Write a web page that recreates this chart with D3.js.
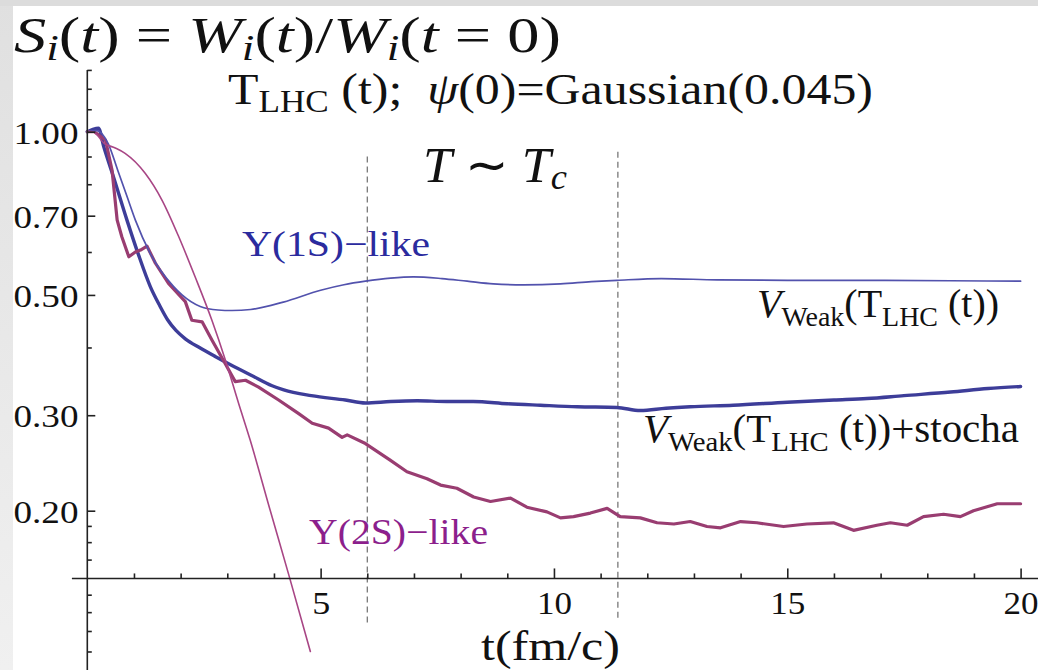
<!DOCTYPE html>
<html>
<head>
<meta charset="utf-8">
<script src="https://cdn.jsdelivr.net/npm/d3@7"></script>
<style>
  html, body { margin: 0; padding: 0; background: #fff; overflow: hidden; }
  svg { display: block; }
</style>
</head>
<body>
<svg id="chart" width="1038" height="670"></svg>
<script>
// Survival probability S_i(t) of Upsilon-like states in a cooling LHC medium.
// t in fm/c, S on a logarithmic axis.

const xMajorTicks = [5, 10, 15, 20];
const xMinorTicks = [1, 2, 3, 4, 6, 7, 8, 9, 11, 12, 13, 14, 16, 17, 18, 19];
const yMajorTicks = [1.0, 0.7, 0.5, 0.3, 0.2];
const yTickLabels = ["1.00", "0.70", "0.50", "0.30", "0.20"];
const yMinorTicks = [1.3, 1.2, 1.1, 0.9, 0.8, 0.6, 0.4, 0.1875, 0.175, 0.1625, 0.14, 0.13, 0.12, 0.11];

// window where T ~ Tc
const tcBounds = [6.0, 11.37];
const tcLineTop = [0.9, 0.918];
const tcLineBottom = [0.124, 0.126];

// Υ(1S), weak potential V_Weak(T_LHC(t))
const weak1S = [
  [0, 1.0], [0.2, 1.005], [0.45, 0.95], [0.65, 0.85], [0.85, 0.76], [1.03, 0.687],
  [1.35, 0.596], [1.85, 0.518], [2.03, 0.50], [2.42, 0.476], [2.8, 0.469], [3.1, 0.468],
  [3.5, 0.470], [4.2, 0.485], [5.0, 0.510], [5.5, 0.522], [5.96, 0.530], [6.5, 0.537],
  [6.99, 0.540], [7.6, 0.536], [8.14, 0.530], [8.7, 0.524], [9.35, 0.522], [10.14, 0.524],
  [10.8, 0.529], [11.35, 0.532], [12.3, 0.536], [13.5, 0.533], [15.0, 0.532], [16.8, 0.532],
  [18.5, 0.531], [20, 0.530]
];

// Υ(1S), weak potential + stochastic forces
const stocha1S = [
  [0, 1.0], [0.12, 1.01], [0.24, 1.015], [0.35, 0.94], [0.56, 0.826], [0.85, 0.687],
  [1.10, 0.592], [1.35, 0.518], [1.55, 0.478], [1.72, 0.450], [1.9, 0.430], [2.1, 0.415],
  [2.42, 0.399], [2.74, 0.385], [3.14, 0.369], [3.5, 0.356], [3.96, 0.340], [4.21, 0.334],
  [4.8, 0.326], [5.53, 0.320], [5.96, 0.316], [6.5, 0.318], [7.07, 0.319], [7.7, 0.318],
  [8.27, 0.318], [9.0, 0.315], [9.71, 0.313], [10.5, 0.311], [11.35, 0.310], [11.85, 0.306],
  [12.4, 0.309], [12.92, 0.311], [13.84, 0.313], [15.0, 0.317], [16.0, 0.320], [16.71, 0.322],
  [17.5, 0.326], [18.5, 0.331], [19.3, 0.336], [20, 0.339]
];

// Υ(2S), weak potential V_Weak(T_LHC(t))
const weak2S = [
  [0, 1.0], [0.12, 1.0], [0.36, 0.952], [0.6, 0.933], [0.81, 0.912], [1.24, 0.838],
  [1.60, 0.748], [1.96, 0.640], [2.31, 0.540], [2.67, 0.449], [2.96, 0.379], [3.24, 0.316],
  [3.49, 0.270], [3.90, 0.203], [4.33, 0.151], [4.78, 0.110]
];

// Υ(2S), weak potential + stochastic forces
const stocha2S = [
  [0, 1.0], [0.15, 1.0], [0.39, 0.965], [0.53, 0.850], [0.64, 0.687], [0.74, 0.640],
  [0.89, 0.588], [1.03, 0.600], [1.14, 0.605], [1.28, 0.615], [1.46, 0.572], [1.74, 0.525],
  [2.10, 0.486], [2.24, 0.449], [2.46, 0.446], [2.67, 0.413], [2.96, 0.373], [3.17, 0.346],
  [3.39, 0.348], [3.67, 0.338], [4.10, 0.320], [4.53, 0.302], [4.82, 0.290], [5.17, 0.284],
  [5.46, 0.273], [5.57, 0.276], [5.96, 0.266], [6.49, 0.248], [6.85, 0.236], [7.28, 0.229],
  [7.57, 0.223], [7.92, 0.220], [8.28, 0.212], [8.64, 0.208], [9.07, 0.211], [9.42, 0.203],
  [9.85, 0.199], [10.14, 0.194], [10.42, 0.195], [10.78, 0.198], [11.14, 0.202], [11.42, 0.195],
  [11.85, 0.194], [12.21, 0.190], [12.57, 0.189], [12.92, 0.191], [13.28, 0.187], [13.57, 0.186],
  [14.0, 0.191], [14.35, 0.190], [14.92, 0.187], [15.42, 0.189], [15.99, 0.190], [16.42, 0.184],
  [16.92, 0.188], [17.21, 0.190], [17.57, 0.188], [17.92, 0.195], [18.35, 0.197], [18.71, 0.195],
  [18.99, 0.200], [19.50, 0.206], [20, 0.206]
];

const W = 1038, H = 670;
const BLUE = "#3d3d99", PURPLE = "#993d71";

// pick the first Times-like face the system actually has
function hasFont(name) {
  const ctx = document.createElement("canvas").getContext("2d");
  const probe = "mmmmmmmmmmlliWQ0123456789 Gaussian";
  return ["monospace", "sans-serif"].some(fb => {
    ctx.font = `72px ${fb}`;
    const w0 = ctx.measureText(probe).width;
    ctx.font = `72px "${name}", ${fb}`;
    return Math.abs(ctx.measureText(probe).width - w0) > 0.5;
  });
}
const serifFace = ["Liberation Serif", "Tinos", "Times New Roman", "Times", "Nimbus Roman",
  "Nimbus Roman No9 L", "FreeSerif", "DejaVu Serif"].find(hasFont);
const SERIF = serifFace ? `"${serifFace}", serif` : "serif";

const svg = d3.select("#chart");

// page backdrop with shaded top and left edges
const defs = svg.append("defs");
const grad = defs.append("linearGradient").attr("id", "edgeShade")
  .attr("x1", 0).attr("y1", 0).attr("x2", 0).attr("y2", 1);
grad.append("stop").attr("offset", "0%").attr("stop-color", "#e0e0e0");
grad.append("stop").attr("offset", "100%").attr("stop-color", "#f0f0f0");
svg.append("rect").attr("width", W).attr("height", H).attr("fill", "#fff");
svg.append("rect").attr("x", 0).attr("y", 0).attr("width", 13).attr("height", H).attr("fill", "url(#edgeShade)");
svg.append("rect").attr("x", 0).attr("y", 0).attr("width", W).attr("height", 6).attr("fill", "#dcdcdc");

const x = d3.scaleLinear().domain([0, 20]).range([87.3, 1020.6]);
const y = d3.scaleLog().domain([0.2, 1]).range([510.7, 131.7]);
const xCross = 0.15;   // x axis sits at S = 0.15
const yCross = 0;      // y axis sits at t = 0

// T ~ Tc window
svg.append("g").selectAll("line").data(tcBounds).join("line")
  .attr("x1", d => x(d)).attr("x2", d => x(d))
  .attr("y1", (d, i) => y(tcLineTop[i])).attr("y2", (d, i) => y(tcLineBottom[i]))
  .attr("stroke", "#6e6e6e").attr("stroke-width", 1.2).attr("stroke-dasharray", "6,4");

// curves
const smooth = d3.line().x(d => x(d[0])).y(d => y(d[1])).curve(d3.curveMonotoneX);
const jagged = d3.line().x(d => x(d[0])).y(d => y(d[1]));
const curves = [
  { data: stocha1S, gen: smooth, color: BLUE, w: 3.4 },
  { data: stocha2S, gen: jagged, color: PURPLE, w: 3.2 },
  { data: weak1S, gen: smooth, color: "#5252ad", w: 1.7 },
  { data: weak2S, gen: smooth, color: "#a84685", w: 1.6 }
];
svg.append("g").selectAll("path").data(curves).join("path")
  .attr("d", c => c.gen(c.data))
  .attr("fill", "none")
  .attr("stroke", c => c.color)
  .attr("stroke-width", c => c.w)
  .attr("stroke-linejoin", "round")
  .attr("stroke-linecap", "round");

// axes
const AX = "#222";
const axisY0 = y(xCross), axisX0 = x(yCross);
svg.append("line").attr("x1", x(-0.33)).attr("x2", W).attr("y1", axisY0).attr("y2", axisY0)
  .attr("stroke", AX).attr("stroke-width", 1.6);
svg.append("line").attr("x1", axisX0).attr("x2", axisX0).attr("y1", y(1.3)).attr("y2", H)
  .attr("stroke", AX).attr("stroke-width", 1.6);

function styleAxis(g) {
  g.select(".domain").remove();
  g.attr("font-family", SERIF).attr("font-size", null);
  g.selectAll("line").attr("stroke", AX).attr("stroke-width", 1.6);
  g.selectAll("text").attr("fill", "#111").attr("font-size", 32.5);
}

// x ticks point up into the plot; labels below
svg.append("g").attr("transform", `translate(0,${axisY0})`)
  .call(d3.axisBottom(x).tickValues(xMinorTicks).tickSize(-5).tickSizeOuter(0).tickFormat(""))
  .call(styleAxis);
const xMaj = svg.append("g").attr("transform", `translate(0,${axisY0})`)
  .call(d3.axisBottom(x).tickValues(xMajorTicks).tickSize(-10).tickSizeOuter(0).tickPadding(12.5).tickFormat(d3.format("d")))
  .call(styleAxis);
xMaj.selectAll("text")
  .attr("textLength", d => d < 10 ? 18 : 35)
  .attr("lengthAdjust", "spacingAndGlyphs");

// y ticks point right into the plot; labels on the left
svg.append("g").attr("transform", `translate(${axisX0},0)`)
  .call(d3.axisLeft(y).tickValues(yMinorTicks).tickSize(-4.5).tickSizeOuter(0).tickFormat(""))
  .call(styleAxis);
const yMaj = svg.append("g").attr("transform", `translate(${axisX0},0)`)
  .call(d3.axisLeft(y).tickValues(yMajorTicks).tickSize(-8).tickSizeOuter(0).tickPadding(9)
    .tickFormat((d, i) => yTickLabels[i]))
  .call(styleAxis);
yMaj.selectAll("text")
  .attr("text-anchor", "start")
  .attr("x", 13.5 - axisX0)
  .attr("dy", "0.36em")
  .attr("textLength", 65)
  .attr("lengthAdjust", "spacingAndGlyphs");

// rich text with italic pieces and subscripts
function rich(px, py, size, parts, opts = {}) {
  const t = svg.append("text")
    .attr("x", px).attr("y", py)
    .attr("font-family", SERIF)
    .attr("font-size", size)
    .attr("fill", opts.fill || "#111")
    .style("white-space", "pre");
  let shift = 0;
  parts.forEach(p => {
    const s = t.append("tspan").text(p.s);
    const target = p.sub ? p.sub : 0;
    if (target !== shift) { s.attr("dy", target - shift); shift = target; }
    if (p.size) s.attr("font-size", p.size);
    if (p.it) s.attr("font-style", "italic");
  });
  if (opts.len) t.attr("textLength", opts.len).attr("lengthAdjust", "spacingAndGlyphs");
  return t;
}

// S_i(t) = W_i(t)/W_i(t = 0)
rich(14, 52, 50, [
  { s: "S", it: true }, { s: "i", it: true, sub: 8, size: 35 },
  { s: "(" }, { s: "t", it: true }, { s: ") = " },
  { s: "W", it: true }, { s: "i", it: true, sub: 8, size: 35 },
  { s: "(" }, { s: "t", it: true }, { s: ")/" },
  { s: "W", it: true }, { s: "i", it: true, sub: 8, size: 35 },
  { s: "(" }, { s: "t", it: true }, { s: " = 0)" }
], { len: 547 });

// T_LHC(t); psi(0)=Gaussian(0.045)
rich(228, 103.5, 44, [
  { s: "T" }, { s: "LHC", sub: 8.5, size: 31 },
  { s: " (t);  " }, { s: "ψ", it: true }, { s: "(0)=Gaussian(0.045)" }
], { len: 645 });

// T ~ Tc
rich(423, 182, 50, [
  { s: "T", it: true }, { s: " ∼ " }, { s: "T", it: true },
  { s: "c", it: true, sub: 6.5, size: 35 }
], { len: 144 });

rich(242, 256, 36, [{ s: "Υ(1S)−like" }], { fill: "#2b2b9e", len: 188 });
rich(309, 543.5, 36, [{ s: "Υ(2S)−like" }], { fill: "#8c1f8c", len: 179 });

rich(757, 317, 40, [
  { s: "V", it: true }, { s: "Weak", sub: 8.5, size: 28 },
  { s: "(T" }, { s: "LHC", sub: 8.5, size: 28 }, { s: " (t))" }
], { len: 242 });

rich(643, 442, 40, [
  { s: "V", it: true }, { s: "Weak", sub: 8.5, size: 28 },
  { s: "(T" }, { s: "LHC", sub: 8.5, size: 28 }, { s: " (t))+stocha" }
], { len: 376 });

// axis title
rich(481, 660, 43, [{ s: "t(fm/c)" }], { len: 139 });
</script>
</body>
</html>
